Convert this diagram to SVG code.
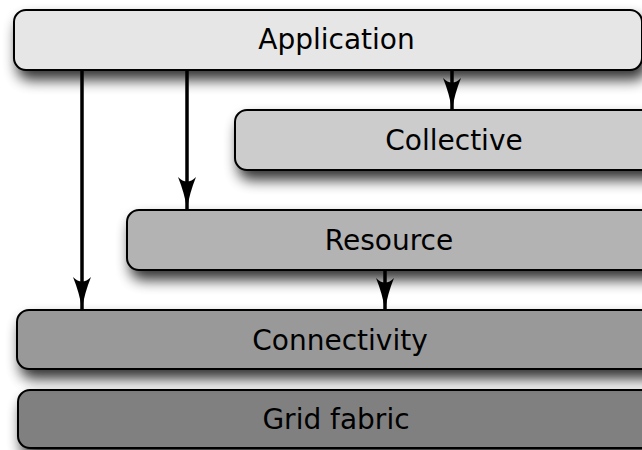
<svg xmlns="http://www.w3.org/2000/svg" width="642" height="450" viewBox="0 0 642 450">
  <style>
    .box { stroke: #000; stroke-width: 2; filter: url(#shadow); }
    .lbl { font-family: "DejaVu Sans", sans-serif; font-size: 28px; fill: #000; text-anchor: middle; }
    .arrow { stroke: #000; stroke-width: 3.5; fill: none; marker-end: url(#head); }
  </style>
  <defs>
    <filter id="shadow" x="-10%" y="-40%" width="120%" height="200%">
      <feGaussianBlur in="SourceAlpha" stdDeviation="7"/>
      <feOffset dx="4" dy="9" result="b"/>
      <feComponentTransfer><feFuncA type="linear" slope="0.8"/></feComponentTransfer>
      <feMerge><feMergeNode/><feMergeNode in="SourceGraphic"/></feMerge>
    </filter>
    <marker id="head" markerUnits="userSpaceOnUse" markerWidth="40" markerHeight="24" viewBox="-34 -12 36 24" refX="0" refY="0" orient="auto" overflow="visible">
      <path d="M0,0 Q-16,-2.5 -32,-9 Q-23,0 -32,9 Q-16,2.5 0,0 Z" fill="#000"/>
    </marker>
  </defs>
  <rect width="642" height="450" fill="#fff"/>
  <g id="grid-fabric">
    <rect class="box" x="18" y="390" width="660" height="58" rx="12" fill="#808080"/>
    <text class="lbl" x="336" y="429">Grid fabric</text>
  </g>
  <g id="connectivity">
    <rect class="box" x="17" y="310" width="660" height="59" rx="12" fill="#999999"/>
    <text class="lbl" x="340" y="349.5">Connectivity</text>
  </g>
  <g id="resource">
    <rect class="box" x="127" y="210" width="560" height="60" rx="12" fill="#b3b3b3"/>
    <text class="lbl" x="389" y="249.5">Resource</text>
  </g>
  <g id="collective">
    <rect class="box" x="235" y="110" width="460" height="60" rx="12" fill="#cccccc"/>
    <text class="lbl" x="454" y="149.5">Collective</text>
  </g>
  <g id="application">
    <rect class="box" x="14" y="10" width="628" height="60" rx="12" fill="#e6e6e6"/>
    <text class="lbl" x="336.5" y="49">Application</text>
  </g>
  <g id="connectors">
    <line class="arrow" x1="82" y1="71" x2="82" y2="309"/>
    <line class="arrow" x1="187" y1="71" x2="187" y2="209"/>
    <line class="arrow" x1="452" y1="71" x2="452" y2="110"/>
    <line class="arrow" x1="385" y1="271" x2="385" y2="310"/>
  </g>
</svg>
